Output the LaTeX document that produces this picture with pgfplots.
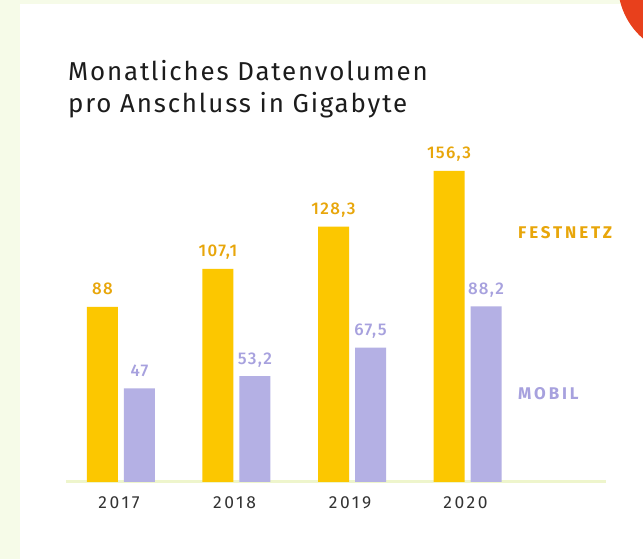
\documentclass[border=0pt]{standalone}
\usepackage{fontspec}
\setmainfont{Fira Sans}
\newfontfamily\titlefont[LetterSpace=7]{Fira Sans}
\newfontfamily\valfont[LetterSpace=8, UprightFont=* Medium]{Fira Sans}
\newfontfamily\legfont[LetterSpace=17]{Fira Sans}
\newfontfamily\yearfont[LetterSpace=15]{Fira Sans}
\usepackage{pgfplots}
\pgfplotsset{compat=1.18}

\definecolor{bgstrip}{HTML}{F6FBE8}
\definecolor{redblob}{HTML}{E8401C}
\definecolor{yel}{HTML}{FCC700}
\definecolor{yellab}{HTML}{E8A60A}
\definecolor{lav}{HTML}{B4B0E4}
\definecolor{lavlab}{HTML}{A7A1DE}
\definecolor{baseline}{HTML}{EEF5CC}
\definecolor{titlecol}{HTML}{1C1C1C}
\definecolor{yearcol}{HTML}{333333}

\begin{document}
\begin{tikzpicture}[x=1bp,y=1bp]
\path[use as bounding box] (0,0) rectangle (643,559);
\fill[bgstrip] (0,0) rectangle (643,559);
\fill[white] (20,0) rectangle (643,555);
\begin{scope}
\clip (0,0) rectangle (643,559);
\fill[redblob] (690,575) circle (72);
\end{scope}

\node[anchor=base west, inner sep=0, text=titlecol, font=\titlefont\fontsize{26}{30}\selectfont] at (68,478) {Monatliches Datenvolumen};
\node[anchor=base west, inner sep=0, text=titlecol, font=\titlefont\fontsize{26}{30}\selectfont] at (68,446) {pro Anschluss in Gigabyte};

\begin{axis}[
    at={(66bp,77bp)}, anchor=south west,
    scale only axis, width=540bp, height=398bp,
    xmin=-0.476, xmax=4.199, ymin=0, ymax=200,
    ybar=6bp, bar width=31bp,
    axis y line=none, axis x line*=bottom,
    x axis line style={draw=baseline, line width=3bp, -},
    xtick={0,1,2,3}, xticklabels={2017,2018,2019,2020},
    major tick length=0pt,
    xticklabel style={text=yearcol, font=\yearfont\fontsize{17.5}{17.5}\selectfont, anchor=base, yshift=-27bp, xshift=-2bp},
    nodes near coords,
    every node near coord/.append style={font=\valfont\fontsize{17}{17}\selectfont, anchor=base, yshift=12bp},
    /pgf/number format/use comma,
    /pgf/number format/assume math mode=true,
    clip=false,
]
\addplot[fill=yel, draw=none, every node near coord/.append style={text=yellab}]
    coordinates {(0,88) (1,107.1) (2,128.3) (3,156.3)};
\addplot[fill=lav, draw=none, every node near coord/.append style={text=lavlab}]
    coordinates {(0,47) (1,53.2) (2,67.5) (3,88.2)};
\end{axis}

\node[anchor=base west, inner sep=0, text=yellab, font=\legfont\bfseries\fontsize{17}{17}\selectfont] at (518,320) {FESTNETZ};
\node[anchor=base west, inner sep=0, text=lavlab, font=\legfont\bfseries\fontsize{17}{17}\selectfont] at (518,159) {MOBIL};
\end{tikzpicture}
\end{document}
